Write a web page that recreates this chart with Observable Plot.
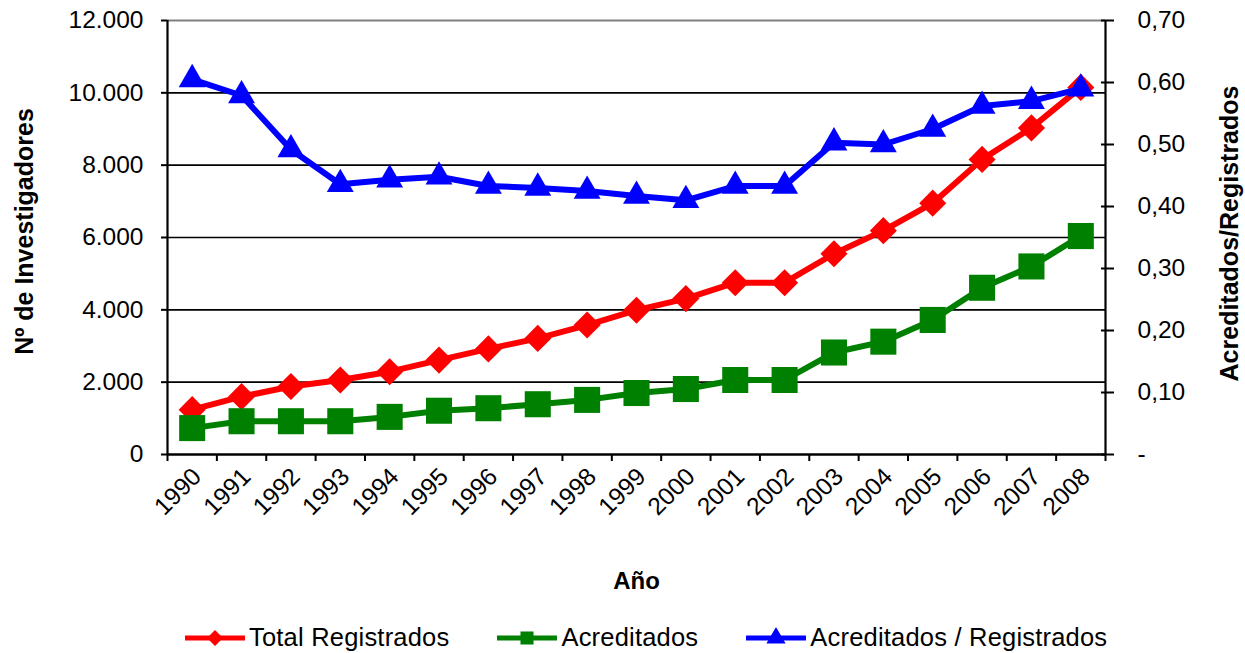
<!DOCTYPE html>
<html>
<head>
<meta charset="utf-8">
<script src="https://cdn.jsdelivr.net/npm/d3@7"></script>
<script src="https://cdn.jsdelivr.net/npm/@observablehq/plot@0.6"></script>
<style>
  html, body { margin: 0; padding: 0; background: #fff; }
  body { width: 1245px; height: 653px; overflow: hidden; font-family: "Liberation Sans", Arial, sans-serif; }
  #legend { display: flex; justify-content: flex-start; align-items: center; gap: 48px; font-size: 25.5px; letter-spacing: 0.2px; height: 53px; padding-left: 185px; padding-top: 22px; box-sizing: border-box; }
  .item { display: flex; align-items: center; gap: 4px; }
</style>
</head>
<body>
<div id="chart"></div>
<div id="legend"></div>
<script>
const years = [1990, 1991, 1992, 1993, 1994, 1995, 1996, 1997, 1998, 1999, 2000, 2001, 2002, 2003, 2004, 2005, 2006, 2007, 2008];
const totalRegistrados = [1240, 1600, 1880, 2060, 2290, 2610, 2920, 3210, 3580, 3990, 4310, 4750, 4750, 5550, 6190, 6950, 8160, 9030, 10150];
const acreditados = [730, 920, 920, 920, 1040, 1210, 1280, 1390, 1510, 1700, 1810, 2060, 2060, 2820, 3120, 3720, 4610, 5200, 6040];
const ratio = [0.605, 0.579, 0.492, 0.436, 0.443, 0.448, 0.433, 0.430, 0.425, 0.417, 0.410, 0.433, 0.433, 0.503, 0.500, 0.525, 0.562, 0.570, 0.590];
const leftTicks = [0, 2000, 4000, 6000, 8000, 10000, 12000];
const rightTicks = [0, 0.1, 0.2, 0.3, 0.4, 0.5, 0.6, 0.7];
const seriesNames = ["Total Registrados", "Acreditados", "Acreditados / Registrados"];
const colors = ["#ff0000", "#008000", "#0000ff"];

const leftMax = 12000, rightMax = 0.7;
const toLeft = r => r * leftMax / rightMax;

const data = years.map((y, i) => ({year: y, total: totalRegistrados[i], acred: acreditados[i], ratio: ratio[i]}));
const loc = d3.formatLocale({decimal: ",", thousands: ".", grouping: [3], currency: ["", ""]});
const fmtLeft = loc.format(",.0f");
const fmtRight = loc.format(".2f");
const bounds = [years[0] - 0.5, ...years.map(y => y + 0.5)];

const chart = Plot.plot({
  width: 1245,
  height: 600,
  marginLeft: 167,
  marginRight: 140,
  marginTop: 20,
  marginBottom: 146,
  style: {fontFamily: "Liberation Sans, Arial, sans-serif", fontSize: "24.5px", color: "#000", background: "#fff", overflow: "visible"},
  x: {domain: [years[0] - 0.5, years[years.length - 1] + 0.5]},
  y: {domain: [0, leftMax]},
  marks: [
    Plot.ruleY(leftTicks.slice(1, -1), {stroke: "#000", strokeWidth: 1.6}),
    Plot.ruleY([leftMax], {stroke: "#808080", strokeWidth: 2}),
    Plot.ruleX([bounds[0], bounds[bounds.length - 1]], {stroke: "#000", strokeWidth: 2.2}),
    Plot.ruleY([0], {stroke: "#000", strokeWidth: 2.5}),
    Plot.axisY({ticks: leftTicks, tickSize: 6, tickPadding: 18, strokeWidth: 2, tickFormat: fmtLeft, label: null}),
    Plot.axisY({anchor: "right", ticks: rightTicks.map(toLeft), tickSize: 13, dx: -5, tickPadding: 24, strokeWidth: 2,
      tickFormat: v => { const r = v * rightMax / leftMax; return Math.abs(r) < 1e-9 ? "-" : fmtRight(r); }, label: null}),
    Plot.axisX({ticks: bounds, tickSize: 7, strokeWidth: 2, tickFormat: () => "", label: null}),
    Plot.axisX({ticks: years, tickSize: 0, tickPadding: 18, dx: 5, tickRotate: -45, tickFormat: d => String(d), label: null}),
    Plot.line(data, {x: "year", y: "total", stroke: colors[0], strokeWidth: 6}),
    Plot.dot(data, {x: "year", y: "total", symbol: "diamond2", r: 12.2, fill: colors[0]}),
    Plot.line(data, {x: "year", y: "acred", stroke: colors[1], strokeWidth: 6}),
    Plot.dot(data, {x: "year", y: "acred", symbol: "square", r: 14.7, fill: colors[1]}),
    Plot.line(data, {x: "year", y: d => toLeft(d.ratio), stroke: colors[2], strokeWidth: 6}),
    Plot.dot(data, {x: "year", y: d => toLeft(d.ratio), symbol: "triangle", r: 10, fill: colors[2]}),
    Plot.text(["Año"], {frameAnchor: "bottom", dy: 134, fontWeight: "bold", fontSize: 24}),
    Plot.text(["Nº de Investigadores"], {frameAnchor: "left", textAnchor: "middle", rotate: -90, dx: -143, dy: -6, fontWeight: "bold", fontSize: 25}),
    Plot.text(["Acreditados/Registrados"], {frameAnchor: "right", textAnchor: "middle", rotate: -90, dx: 124, dy: -4, fontWeight: "bold", fontSize: 25})
  ]
});
document.getElementById("chart").appendChild(chart);

// Legend
const symSize = [160, 170, 160];
const legend = document.getElementById("legend");
seriesNames.forEach((name, i) => {
  const item = document.createElement("div");
  item.className = "item";
  const svg = d3.create("svg").attr("width", 60).attr("height", 30);
  svg.append("line").attr("x1", 0).attr("x2", 60).attr("y1", 15).attr("y2", 15).attr("stroke", colors[i]).attr("stroke-width", 5);
  svg.append("path").attr("transform", "translate(30,15)").attr("fill", colors[i])
    .attr("d", d3.symbol(i === 0 ? d3.symbolDiamond2 : i === 1 ? d3.symbolSquare : d3.symbolTriangle, symSize[i])());
  item.appendChild(svg.node());
  const span = document.createElement("span");
  span.textContent = name;
  item.appendChild(span);
  legend.appendChild(item);
});
</script>
</body>
</html>
